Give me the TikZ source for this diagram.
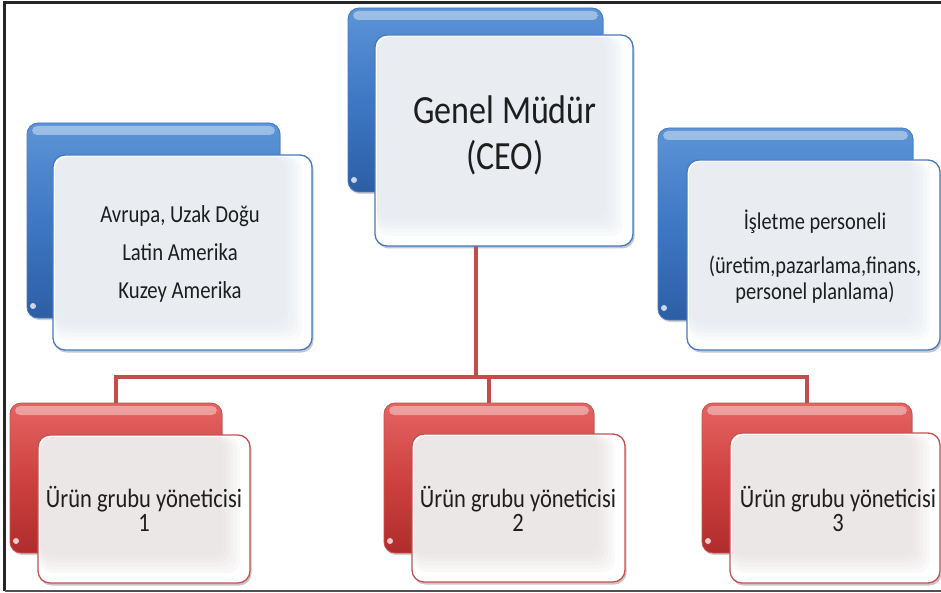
\documentclass[tikz,border=0pt]{standalone}
\usepackage{fontspec}
\setmainfont[FakeStretch=0.85]{Carlito}
\usetikzlibrary{shadows,calc}

\definecolor{blueTop}{RGB}{92,148,214}
\definecolor{blueMid}{RGB}{62,120,196}
\definecolor{blueBot}{RGB}{44,94,164}
\definecolor{blueEdge}{RGB}{70,122,190}
\definecolor{redTop}{RGB}{228,100,98}
\definecolor{redMid}{RGB}{206,66,64}
\definecolor{redBot}{RGB}{176,44,44}
\definecolor{redEdge}{RGB}{196,82,80}
\definecolor{wireRed}{RGB}{194,78,76}
\definecolor{paleBlue}{RGB}{226,230,238}
\definecolor{palePink}{RGB}{230,222,222}
\definecolor{ink}{RGB}{30,30,30}
\definecolor{frameGrey}{RGB}{38,38,38}

\pgfdeclarelayer{bg}
\pgfsetlayers{bg,main}

\tikzset{
  gloss/.style={path picture={
      \fill[white,opacity=0.4,rounded corners=5pt]
        ([xshift=5pt,yshift=-3pt]path picture bounding box.north west) rectangle
        ([xshift=-5pt,yshift=-12pt]path picture bounding box.north east);
      \fill[white,opacity=0.75]
        ([xshift=6pt,yshift=12pt]path picture bounding box.south west) circle (3pt);
  }},
  backblue/.style={rounded corners=11pt, draw=blueEdge, line width=0.8pt,
    top color=blueTop, bottom color=blueBot, middle color=blueMid, gloss,
    drop shadow={shadow xshift=1pt, shadow yshift=-2pt, opacity=0.3, fill=black!60}},
  backred/.style={rounded corners=11pt, draw=redEdge, line width=0.8pt,
    top color=redTop, bottom color=redBot, middle color=redMid, gloss,
    drop shadow={shadow xshift=1pt, shadow yshift=-2pt, opacity=0.3, fill=black!60}},
  % light card with a soft tinted panel fading towards the right and bottom
  frontcard/.style={rounded corners=12pt, line width=1.3pt, fill=white,
    drop shadow={shadow xshift=1.5pt, shadow yshift=-2.5pt, opacity=0.4, fill=black!55},
    path picture={
      \foreach \k in {0,...,5}{
        \fill[#1,opacity=0.18,rounded corners=12pt]
          ([xshift=2pt,yshift=-2pt]path picture bounding box.north west) rectangle
          ([xshift=-10pt-3.5pt*\k,yshift=10pt+3.5pt*\k]path picture bounding box.south east);
      }
  }},
  frontblue/.style={frontcard=paleBlue, draw=blueEdge},
  frontred/.style={frontcard=palePink, draw=redEdge},
  cardtext/.style={align=center, text=ink, inner sep=0pt},
  wire/.style={draw=wireRed, line width=4pt, line join=miter},
}

\begin{document}
\begin{tikzpicture}[x=1pt,y=-1pt]
\useasboundingbox (0,0) rectangle (941,593);

% top: chief executive
\node[backblue, minimum width=255pt, minimum height=184pt] (ceoB) at (475.5,100) {};
\node[frontblue, minimum width=258pt, minimum height=211pt] (ceoF) at (504,140.5) {};
\node[cardtext, font=\fontsize{40}{46}\selectfont] (ceoT) at (505,135) {Genel Müdür\\(CEO)};

% left: regions
\node[backblue, minimum width=253pt, minimum height=195pt] (regB) at (153.5,220.5) {};
\node[frontblue, minimum width=259pt, minimum height=195pt] (regF) at (182.5,252.5) {};
\node[cardtext, font=\fontsize{24.4}{38}\selectfont] (regT) at (180,254) {Avrupa, Uzak Doğu\\Latin Amerika\\Kuzey Amerika};

% right: operations staff
\node[backblue, minimum width=255pt, minimum height=192pt] (opsB) at (785.5,224) {};
\node[frontblue, minimum width=253pt, minimum height=190pt] (opsF) at (813.5,255) {};
\node[cardtext, font=\fontsize{24}{26}\selectfont] (opsT) at (815,257) {İşletme personeli\\[18pt](üretim,pazarlama,finans,\\personel planlama)};

% bottom: product group managers
\node[backred, minimum width=212pt, minimum height=150pt] (m1B) at (116,478) {};
\node[frontred, minimum width=212pt, minimum height=148pt] (m1F) at (144,509) {};
\node[cardtext, font=\fontsize{26.5}{24}\selectfont] (m1T) at (144,509) {Ürün grubu yöneticisi\\1};

\node[backred, minimum width=210pt, minimum height=150pt] (m2B) at (489,478) {};
\node[frontred, minimum width=213pt, minimum height=148pt] (m2F) at (518.5,508) {};
\node[cardtext, font=\fontsize{26.5}{24}\selectfont] (m2T) at (518,509) {Ürün grubu yöneticisi\\2};

\node[backred, minimum width=210pt, minimum height=150pt] (m3B) at (807,478) {};
\node[frontred, minimum width=210pt, minimum height=150pt] (m3F) at (835,508) {};
\node[cardtext, font=\fontsize{26.5}{24}\selectfont] (m3T) at (838,509) {Ürün grubu yöneticisi\\3};

% connectors behind the cards
\coordinate (bus) at (0,377);
\begin{pgfonlayer}{bg}
  \draw[wire] (ceoB.south) -- (ceoB.south |- bus);
  \draw[wire] (m1B.north) -- (m1B.north |- bus) -- (m3B.north |- bus) -- (m3B.north);
  \draw[wire] (m2B.north |- bus) -- (m2B.north);
\end{pgfonlayer}

% page frame
\draw[frameGrey, line width=3pt] (941,3) -- (4.5,3) -- (4.5,590.5);
\draw[frameGrey!80, line width=2pt] (4.5,590.5) -- (941,590.5);
\end{tikzpicture}
\end{document}
